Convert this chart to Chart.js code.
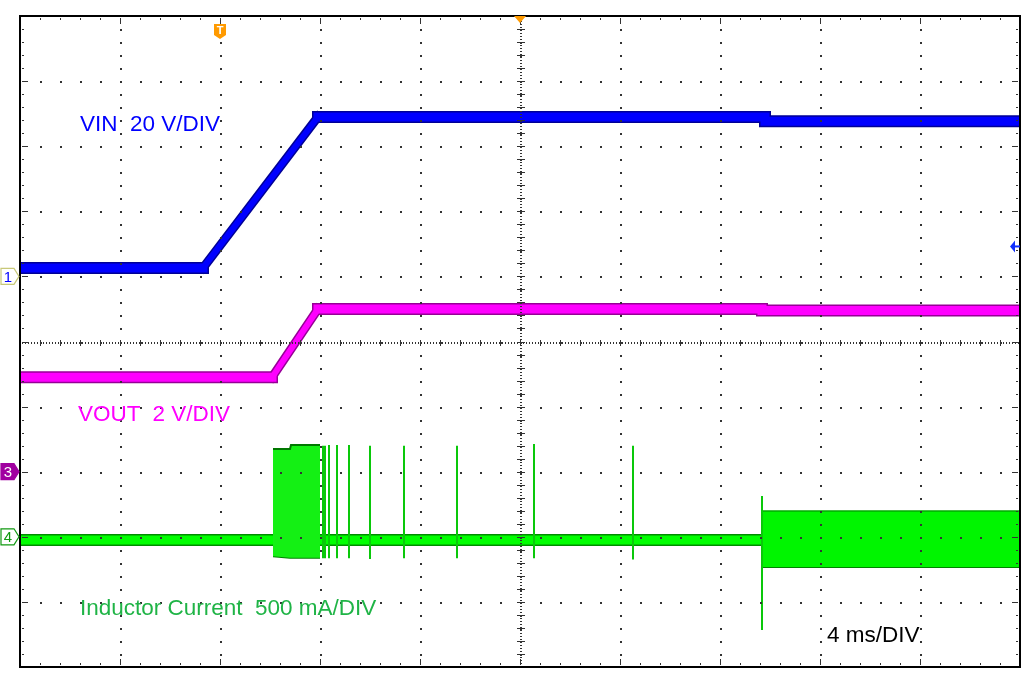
<!DOCTYPE html>
<html>
<head>
<meta charset="utf-8">
<title>Start-up: VIN, VOUT, inductor current</title>
<script src="https://cdn.jsdelivr.net/npm/chart.js@4.4.0/dist/chart.umd.min.js"></script>
<style>
  html, body { margin: 0; padding: 0; background: #fff; }
  #wrap { position: relative; width: 1024px; height: 678px; overflow: hidden; }
  #scope { position: absolute; left: 0; top: 0; }
  .lbl { position: absolute; font: 22.5px "Liberation Sans", Arial, sans-serif; line-height: 22px; white-space: pre; }
</style>
</head>
<body>
<div id="wrap">
  <canvas id="scope" width="1024" height="678"></canvas>
  <div class="lbl" style="left:80px; top:113px; color:#0000ff">VIN  20 V/DIV</div>
  <div class="lbl" style="left:78px; top:403px; color:#ff00ff">VOUT  2 V/DIV</div>
  <div class="lbl" style="left:80px; top:597px; color:#1fb446">Inductor Current  500 mA/DIV</div>
  <div class="lbl" style="left:827px; top:624px; color:#000">4 ms/DIV</div>
</div>
<script>
// time base: 4 ms/DIV, 10 divisions
var timeMax = 40;
var msPerDiv = 4;
var triggerTime = 8;      // "T" marker
var triggerLevel = 9.2;   // V, on the VIN channel

// CH1 VIN (V), 20 V/DIV
var vinTime  = [0, 7.32, 11.92, 29.8, 29.8, 40];
var vinVolts = [2.6, 2.6, 49.0, 49.0, 47.7, 47.7];

// CH3 VOUT (V), 2 V/DIV
var voutTime  = [0, 10.08, 11.92, 29.68, 29.68, 40];
var voutVolts = [2.9, 2.9, 5.0, 5.0, 4.95, 4.95];

// CH4 inductor current (mA), 500 mA/DIV
var ilTime = [0, 29.68];
var ilBase = [-25, -25];

var burstTime = [10.12, 10.8, 10.84, 12.0];
var burstHigh = [675, 675, 705, 705];
var burstLow  = [-150, -160, -160, -160];

var spikeTime = [12.12, 12.2, 12.36, 12.68, 13.16, 14.0, 15.36, 17.48, 20.56, 24.52];
var spikeHigh = [700, 700, 705, 705, 705, 700, 700, 700, 712, 700];
var spikeLow  = [-165, -165, -165, -165, -165, -170, -165, -165, -165, -175];

var lateTime = [29.68, 40];
var lateHigh = [198, 198];
var lateLow  = [-232, -232];
var lateSpikeTime = [29.68];
var lateSpikeHigh = [313];
var lateSpikeLow  = [-716];

function pts(xs, ys) {
    var out = [];
    for (var i = 0; i < xs.length; i++) out.push({x: xs[i], y: ys[i]});
    return out;
}
function spikes(xs, hi, lo) {
    var out = [];
    for (var i = 0; i < xs.length; i++) {
        out.push({x: xs[i], y: hi[i]});
        out.push({x: xs[i], y: lo[i]});
        out.push({x: xs[i], y: null});
    }
    return out;
}

function band(data, axis, color, width, order, rampWidth) {
    var ds = {
        data: data, yAxisID: axis, borderColor: color, borderWidth: width,
        pointRadius: 0, tension: 0, fill: false, order: order,
        borderJoinStyle: 'miter', borderCapStyle: 'butt'
    };
    if (rampWidth) {
        // sloped parts of the trace look thinner on the scope
        ds.borderCapStyle = 'square';
        ds.segment = {
            borderWidth: function(c) {
                return (c.p0.parsed.x !== c.p1.parsed.x && c.p0.parsed.y !== c.p1.parsed.y) ? rampWidth : undefined;
            }
        };
    }
    return ds;
}

// grid, frame and channel markers, all placed through the scales
var scopeDeco = {
    id: 'scopeDeco',
    afterDatasetsDraw: function(chart) {
        var ctx = chart.ctx, a = chart.chartArea;
        var xs = chart.scales.x, ys = chart.scales.yVout;
        var yMin = ys.min, yStep = (ys.max - ys.min) / 10;
        ctx.save();
        ctx.fillStyle = '#333';
        var c, r, px, py;
        // dotted verticals
        for (c = 1; c < 10; c++) {
            px = Math.round(xs.getPixelForValue(c * msPerDiv));
            for (r = 1; r < 50; r++) {
                py = Math.round(ys.getPixelForValue(yMin + r * yStep / 5));
                ctx.fillRect(px, py, 2, 2);
            }
        }
        // dotted horizontals
        for (r = 1; r < 10; r++) {
            py = Math.round(ys.getPixelForValue(yMin + r * yStep));
            for (c = 1; c < 50; c++) {
                px = Math.round(xs.getPixelForValue(c * msPerDiv / 5));
                ctx.fillRect(px, py, 2, 2);
            }
        }
        // centre cross: dense dots + minor ticks
        var cx = Math.round(xs.getPixelForValue(5 * msPerDiv));
        var cy = Math.round(ys.getPixelForValue(yMin + 5 * yStep));
        for (py = a.top + 2; py < a.bottom; py += 3) ctx.fillRect(cx, py, 2, 1);
        for (px = a.left + 2; px < a.right; px += 3) ctx.fillRect(px, cy, 1, 2);
        for (r = 1; r < 50; r++) {
            py = Math.round(ys.getPixelForValue(yMin + r * yStep / 5));
            ctx.fillRect(cx - 3, py, 8, 1);
        }
        for (c = 1; c < 50; c++) {
            px = Math.round(xs.getPixelForValue(c * msPerDiv / 5));
            ctx.fillRect(px, cy - 2, 1, 6);
        }
        // ticks along the frame
        for (r = 1; r < 50; r++) {
            py = Math.round(ys.getPixelForValue(yMin + r * yStep / 5));
            var len = (r % 5 === 0) ? 6 : 2;
            ctx.fillRect(a.left + 2, py, len, 1);
            ctx.fillRect(a.right - 2 - len, py, len, 1);
        }
        for (c = 1; c < 50; c++) {
            px = Math.round(xs.getPixelForValue(c * msPerDiv / 5));
            var ln = (c % 5 === 0) ? 6 : 2;
            ctx.fillRect(px, a.top + 2, 1, ln);
            ctx.fillRect(px, a.bottom - 2 - ln, 1, ln);
        }
        // frame
        ctx.strokeStyle = '#000';
        ctx.lineWidth = 2;
        ctx.strokeRect(a.left, a.top, a.right - a.left, a.bottom - a.top);
        ctx.restore();
    },
    afterDraw: function(chart) {
        var ctx = chart.ctx, a = chart.chartArea;
        ctx.save();
        ctx.font = '15px "Liberation Sans", Arial, sans-serif';
        ctx.textAlign = 'center';
        ctx.textBaseline = 'middle';

        function tag(y, fill, stroke, txt, txtColor) {
            ctx.beginPath();
            ctx.moveTo(1, y - 8); ctx.lineTo(14, y - 8); ctx.lineTo(19, y);
            ctx.lineTo(14, y + 8); ctx.lineTo(1, y + 8); ctx.closePath();
            ctx.fillStyle = fill; ctx.fill();
            ctx.lineWidth = 1.2; ctx.strokeStyle = stroke; ctx.stroke();
            ctx.fillStyle = txtColor;
            ctx.fillText(txt, 8, y + 1);
        }
        tag(chart.scales.yVin.getPixelForValue(0), '#fff', '#c8c878', '1', '#0000ff');
        tag(chart.scales.yVout.getPixelForValue(0), '#a000a0', '#a000a0', '3', '#fff');
        tag(chart.scales.yIl.getPixelForValue(0), '#fff', '#119911', '4', '#119911');

        // trigger time marker
        var tx = chart.scales.x.getPixelForValue(triggerTime);
        ctx.beginPath();
        ctx.moveTo(tx - 6, 24); ctx.lineTo(tx + 6, 24); ctx.lineTo(tx + 6, 35);
        ctx.lineTo(tx, 39); ctx.lineTo(tx - 6, 35); ctx.closePath();
        ctx.fillStyle = '#ff9a00'; ctx.fill();
        ctx.fillStyle = '#fff';
        ctx.font = 'bold 11px "Liberation Sans", Arial, sans-serif';
        ctx.fillText('T', tx, 31);

        // horizontal position marker
        var mx = chart.scales.x.getPixelForValue(timeMax / 2);
        ctx.beginPath();
        ctx.moveTo(mx - 6, a.top); ctx.lineTo(mx + 6, a.top); ctx.lineTo(mx, a.top + 7);
        ctx.closePath();
        ctx.fillStyle = '#ff9a00'; ctx.fill();

        // trigger level arrow
        var ly = chart.scales.yVin.getPixelForValue(triggerLevel);
        ctx.beginPath();
        ctx.moveTo(a.right - 10, ly); ctx.lineTo(a.right - 5, ly - 6); ctx.lineTo(a.right - 5, ly + 6);
        ctx.closePath();
        ctx.fillStyle = '#1030ff'; ctx.fill();
        ctx.fillRect(a.right - 6, ly - 1, 6, 2);
        ctx.restore();
    }
};

var chart = new Chart(document.getElementById('scope').getContext('2d'), {
    type: 'line',
    data: {
        datasets: [
            band(pts(vinTime, vinVolts), 'yVin', 'rgb(0,0,255)', 9, 1, 6),
            band(pts(vinTime, vinVolts), 'yVin', 'rgb(0,0,150)', 12, 2, 9),
            band(pts(voutTime, voutVolts), 'yVout', 'rgb(255,0,255)', 9, 3, 6),
            band(pts(voutTime, voutVolts), 'yVout', 'rgb(150,0,150)', 12, 4, 9),
            band(spikes(spikeTime, spikeHigh, spikeLow), 'yIl', 'rgb(10,200,10)', 2, 5),
            band(spikes(lateSpikeTime, lateSpikeHigh, lateSpikeLow), 'yIl', 'rgb(10,200,10)', 2, 5),
            Object.assign(band(pts(burstTime, burstHigh), 'yIl', 'rgb(0,120,0)', 2, 6),
                {fill: '+1', backgroundColor: 'rgb(20,240,20)'}),
            band(pts(burstTime, burstLow), 'yIl', 'rgb(0,130,0)', 2, 6),
            Object.assign(band(pts(lateTime, lateHigh), 'yIl', 'rgb(0,170,0)', 1.5, 6),
                {fill: '+1', backgroundColor: 'rgb(0,245,0)'}),
            band(pts(lateTime, lateLow), 'yIl', 'rgb(0,130,0)', 2, 6),
            band(pts(ilTime, ilBase), 'yIl', 'rgb(0,255,0)', 9, 7),
            band(pts(ilTime, ilBase), 'yIl', 'rgb(0,140,0)', 12, 8)
        ]
    },
    options: {
        responsive: false,
        animation: false,
        layout: { padding: { left: 20, right: 4, top: 16, bottom: 11 } },
        plugins: { legend: { display: false }, tooltip: { enabled: false } },
        scales: {
            x: { type: 'linear', min: 0, max: timeMax, display: false },
            yVin: { type: 'linear', min: -120, max: 80, display: false },
            yVout: { type: 'linear', min: -6, max: 14, display: false },
            yIl: { type: 'linear', min: -1000, max: 4000, display: false }
        }
    },
    plugins: [scopeDeco]
});
</script>
</body>
</html>
